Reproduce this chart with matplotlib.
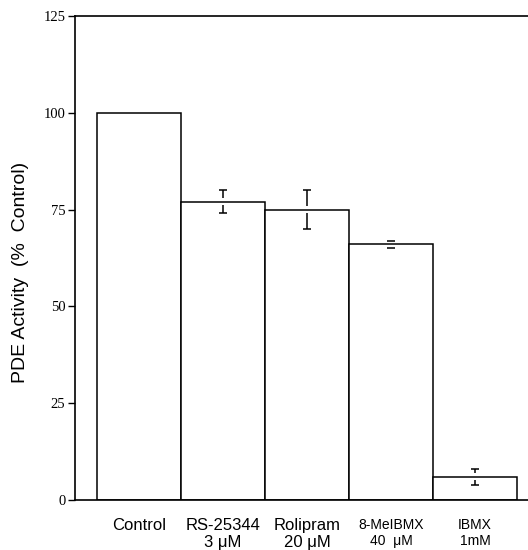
import numpy as np
import matplotlib
matplotlib.use('Agg')
import matplotlib.pyplot as plt

# values
labels = ['Control', 'RS-25344\n3 \u03bcM', 'Rolipram\n20 \u03bcM', '8-MeIBMX\n40  \u03bcM', 'IBMX\n1mM']
activity = [100, 77, 75, 66, 6]
sem = [0, 3, 5, 1, 2]

fig = plt.figure(figsize=(5.28, 5.5), dpi=100)
ax = fig.add_axes([75 / 528, 50 / 550, 453 / 528, 484 / 550])

x = np.arange(len(activity))
ax.bar(x, activity, width=1.0, color='white', edgecolor='black', linewidth=1.1, zorder=2)

# error bars with a small gap where they cross the bar top
gap = 0.9
cap = 0.05
for xi, v, e in zip(x, activity, sem):
    if e == 0:
        continue
    ax.vlines(xi, v + gap, v + e, color='black', lw=1.1, zorder=3)
    ax.vlines(xi, v - e, v - gap, color='black', lw=1.1, zorder=3)
    ax.hlines([v + e, v - e], xi - cap, xi + cap, color='black', lw=1.1, zorder=3)

ax.set_xlim(-0.762, 4.631)
ax.set_ylim(0, 125)
ax.set_yticks([0, 25, 50, 75, 100, 125])
ax.set_yticklabels(['0', '25', '50', '75', '100', '125'], family='Liberation Serif', fontsize=10.5)
ax.tick_params(axis='y', direction='out', length=5, width=1, pad=2)

ax.set_xticks(x)
ax.set_xticklabels(labels, family='Liberation Sans', fontsize=12, linespacing=1.15)
ax.tick_params(axis='x', length=0, pad=13)
for t in ax.get_xticklabels()[3:]:
    t.set_fontsize(10)

ax.set_ylabel('PDE Activity  (%  Control)', family='Liberation Sans', fontsize=14, labelpad=10)
ax.yaxis.label.set_y(0.47)

ax.spines['right'].set_visible(False)
for s in ['left', 'top', 'bottom']:
    ax.spines[s].set_linewidth(1.2)

fig.savefig('out.png', dpi=100)
